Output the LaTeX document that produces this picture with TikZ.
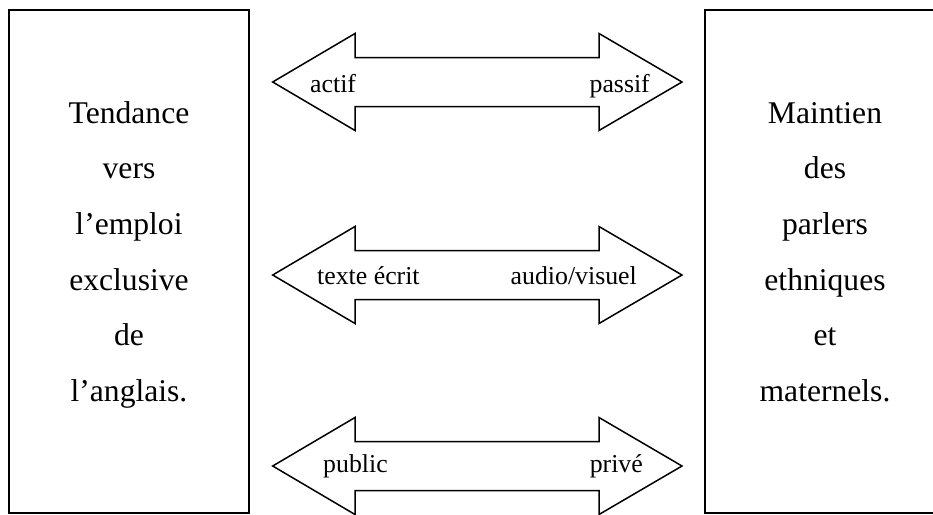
\documentclass[tikz,border=0pt]{standalone}
\usepackage{fontspec}
\setmainfont{Liberation Serif}
\begin{document}
\begin{tikzpicture}[x=1pt,y=-1pt,
  sidebox/.style={draw=black,line width=1.8pt},
  dblarrow/.style={draw=black,line width=1.5pt,line join=miter},
  boxtext/.style={font=\fontsize{31.6}{55.7}\selectfont,align=center,anchor=base,inner sep=0pt},
  lbl/.style={font=\fontsize{25.8}{30}\selectfont,inner sep=0pt,anchor=base west},
  lblr/.style={font=\fontsize{25.8}{30}\selectfont,inner sep=0pt,anchor=base east}]
\useasboundingbox (0,0) rectangle (933,514);
\clip (0,0) rectangle (933,514);
% side boxes
\draw[sidebox] (9,10) rectangle (249,513);
\draw[sidebox] (705,10) rectangle (945,513);
\node[boxtext] (l1) at (129,123) {Tendance};
\node[boxtext] (l2) at (129,178.7) {vers};
\node[boxtext] (l3) at (129,234.4) {l’emploi};
\node[boxtext] (l4) at (129,290.1) {exclusive};
\node[boxtext] (l5) at (129,345.8) {de};
\node[boxtext] (l6) at (129,401.5) {l’anglais.};
\node[boxtext] (r1) at (825,123) {Maintien};
\node[boxtext] (r2) at (825,178.7) {des};
\node[boxtext] (r3) at (825,234.4) {parlers};
\node[boxtext] (r4) at (825,290.1) {ethniques};
\node[boxtext] (r5) at (825,345.8) {et};
\node[boxtext] (r6) at (825,401.5) {maternels.};
% double arrows
\foreach \cy in {82,275,466}{
  \draw[dblarrow] (272.7,\cy) -- (355,\cy-48.5) -- (355,\cy-24.5) -- (599,\cy-24.5)
    -- (599,\cy-48.5) -- (682,\cy) -- (599,\cy+48.5) -- (599,\cy+24.5)
    -- (355,\cy+24.5) -- (355,\cy+48.5) -- cycle;
}
\node[lbl] (a1) at (310,92) {actif};
\node[lblr] (b1) at (650,92) {passif};
\node[lbl] (a2) at (317,284) {texte écrit};
\node[lblr] (b2) at (637,284) {audio/visuel};
\node[lbl] (a3) at (323,472) {public};
\node[lblr] (b3) at (643,472) {privé};
\end{tikzpicture}
\end{document}
